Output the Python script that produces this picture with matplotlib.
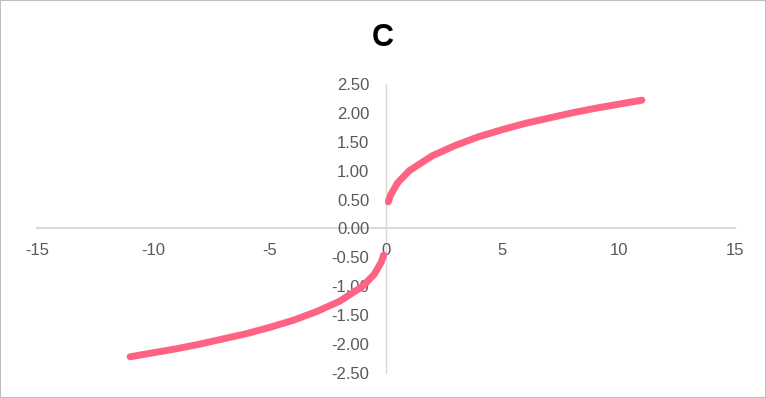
import matplotlib
matplotlib.use("Agg")
from matplotlib import pyplot as plt
from matplotlib.patches import Rectangle

# values (upper branch and lower branch)
x_pos = [0.1, 0.2, 0.5, 1, 2, 3, 4, 5, 6, 7, 8, 9, 10, 11]
y_pos = [0.46, 0.58, 0.79, 1.00, 1.26, 1.44, 1.59, 1.71, 1.82, 1.91, 2.00, 2.08, 2.15, 2.22]
x_neg = [-11, -10, -9, -8, -7, -6, -5, -4, -3, -2, -1, -0.5, -0.2, -0.1]
y_neg = [-2.22, -2.15, -2.08, -2.00, -1.91, -1.82, -1.71, -1.59, -1.44, -1.26, -1.00, -0.79, -0.58, -0.46]

x_ticks = [-15, -10, -5, 0, 5, 10, 15]
y_ticks = [-2.5, -2.0, -1.5, -1.0, -0.5, 0.0, 0.5, 1.0, 1.5, 2.0, 2.5]

line_color = '#FF6384'
grey_txt = '#595959'
axis_col = '#d9d9d9'

plt.rcParams['font.family'] = ['Liberation Sans', 'DejaVu Sans']

fig = plt.figure(figsize=(7.66, 3.98), dpi=100)
ax = fig.add_axes([0.0483, 0.0628, 0.9112, 0.7262])

ax.plot(x_pos, y_pos, color=line_color, lw=5, solid_capstyle='round', solid_joinstyle='round')
ax.plot(x_neg, y_neg, color=line_color, lw=5, solid_capstyle='round', solid_joinstyle='round')

ax.set_xlim(-15, 15)
ax.set_ylim(-2.5, 2.5)
ax.set_xticks(x_ticks)
ax.set_yticks(y_ticks)
ax.set_xticklabels([str(t) for t in x_ticks])
ax.set_yticklabels([f"{t:.2f}" for t in y_ticks])

for side in ['top', 'right']:
    ax.spines[side].set_visible(False)
ax.spines['left'].set_position(('data', 0))
ax.spines['bottom'].set_position(('data', 0))
ax.spines['left'].set_color(axis_col)
ax.spines['bottom'].set_color(axis_col)
ax.spines['left'].set_linewidth(1)
ax.spines['bottom'].set_linewidth(1.5)
ax.spines['left'].set_zorder(0)
ax.spines['bottom'].set_zorder(0)

ax.tick_params(axis='x', length=0, pad=10.5, labelsize=12, labelcolor=grey_txt)
ax.tick_params(axis='y', length=0, pad=12, labelsize=12, labelcolor=grey_txt)
ax.patch.set_visible(False)

fig.text(0.5, 0.905, 'C', ha='center', va='center', fontsize=22, fontweight='bold', color='black')

fig.patches.append(Rectangle((0, 0), 1, 1, transform=fig.transFigure, fill=False,
                             edgecolor='#bfbfbf', linewidth=1.5))

plt.savefig('out.png', dpi=100)
plt.close()
